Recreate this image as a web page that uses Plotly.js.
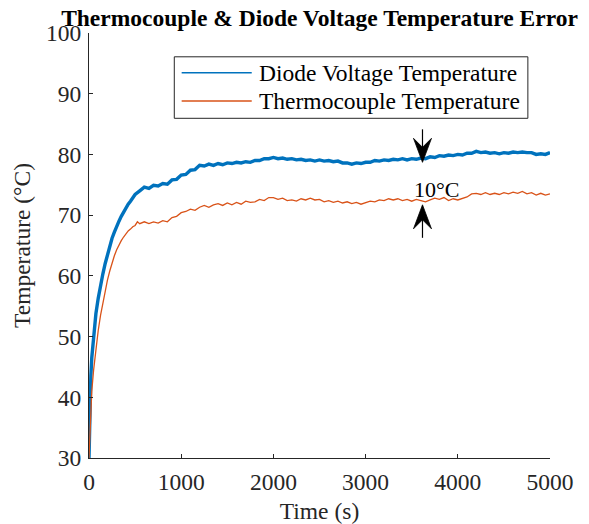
<!DOCTYPE html>
<html>
<head>
<meta charset="utf-8">
<script src="https://cdn.plot.ly/plotly-3.0.1.min.js"></script>
<style>html,body{margin:0;padding:0;background:#fff;}#chart{width:589px;height:524px;}</style>
</head>
<body>
<div id="chart"></div>
<script>
// ---- Data ----
const diodeTime = [0,5,10,20,30,40,50,60,75,100,125,150,175,200,225,250,275,300,325,350,375,400,425,450,475,
  500,550,600,650,700,750,800,850,900,950,1000,1050,1100,1150,1200,1250,1300,1350,1400,1450,1500,1550,1600,1650,1700,1750,
  1800,1850,1900,1950,2000,2050,2100,2150,2200,2250,2300,2350,2400,2450,2500,2550,2600,2650,2700,2750,2800,2850,2900,2950,
  3000,3050,3100,3150,3200,3250,3300,3350,3400,3450,3500,3550,3600,3650,3700,3750,3800,3850,3900,3950,4000,4050,4100,4150,
  4200,4250,4300,4350,4400,4450,4500,4550,4600,4650,4700,4750,4800,4850,4900,4950,5000];
const diodeTemp = [30,35,39,43.5,46.5,48.5,50.3,51.8,53.8,56.3,58.5,60.3,62,63.6,65,66.2,67.2,68.2,69,69.8,70.5,71.1,71.8,72.3,72.9,
  73.4,74.0,74.6,74.4,74.9,74.8,75.2,75.1,75.8,75.9,76.6,76.7,77.4,77.5,78.2,78.1,78.4,78.2,78.5,78.3,78.6,78.5,78.7,78.6,78.8,78.7,
  79.0,79.0,79.3,79.3,79.5,79.3,79.4,79.2,79.3,79.1,79.2,79.0,79.1,78.9,79.1,78.9,79.0,78.8,78.9,78.6,78.6,78.4,78.6,78.5,
  78.7,78.7,79.0,78.9,79.1,79.0,79.2,79.1,79.3,79.1,79.3,79.2,79.4,79.3,79.6,79.5,79.8,79.7,79.9,79.8,80.0,79.9,80.2,80.2,
  80.5,80.3,80.4,80.2,80.3,80.1,80.3,80.2,80.4,80.3,80.4,80.3,80.3,80.0,80.1,80.0,80.3];

const tcTime = [0,10,20,30,50,75,100,125,150,175,200,225,250,275,300,325,350,375,400,425,450,475,500,525,550,600,650,700,750,800,850,
  900,950,1000,1050,1100,1150,1200,1250,1300,1350,1400,1450,1500,1550,1600,1650,1700,1750,1800,1850,1900,1950,2000,2050,2100,
  2150,2200,2250,2300,2350,2400,2450,2500,2550,2600,2650,2700,2750,2800,2850,2900,2950,3000,3050,3100,3150,3200,3250,3300,
  3350,3400,3450,3500,3550,3600,3650,3700,3750,3800,3850,3900,3950,4000,4050,4100,4150,4200,4250,4300,4350,4400,4450,4500,
  4550,4600,4650,4700,4750,4800,4850,4900,4950,5000];
const tcTemp = [30,35,38.5,41,44.5,48,51,53.5,55.5,57.5,59.3,60.8,62.2,63.3,64.3,65.1,65.8,66.4,66.9,67.4,67.7,68.1,68.3,68.9,68.6,68.9,68.6,68.9,68.7,69.1,68.9,
  69.6,69.8,70.4,70.6,71.0,70.8,71.3,71.6,71.3,71.7,71.9,71.6,72.0,71.7,72.1,71.8,72.3,72.1,72.2,72.6,72.4,72.9,72.9,72.6,72.8,
  72.4,72.5,72.3,72.7,72.5,72.8,72.5,72.6,72.2,72.4,72.1,72.3,72.0,72.2,71.9,72.1,71.8,72.1,72.3,72.2,72.5,72.4,72.7,72.5,
  72.7,72.4,72.6,72.3,72.6,72.4,72.2,72.5,72.8,72.6,72.9,72.4,72.7,72.5,72.8,73.0,73.5,73.6,73.4,73.7,73.4,73.6,73.4,73.7,
  73.5,73.8,73.6,73.9,73.5,73.7,73.3,73.6,73.3,73.5];

const seriesNames = ['Diode Voltage Temperature', 'Thermocouple Temperature'];
const xTicks = [0,1000,2000,3000,4000,5000];
const yTicks = [30,40,50,60,70,80,90,100];
const gapLabel = '10°C';
const arrowTime = 3617;
const downArrowTip = 78.7;
const upArrowTip = 71.7;
const gapLabelPos = {t: 3772, v: 74.15};

// ---- Styles ----
const FONT = 'Liberation Serif, "Times New Roman", Times, serif';
const AX = '#262626';
const BLUE = '#0072BD';
const ORANGE = '#D95319';
const FS = 23.5;

const traces = [
  {x: diodeTime, y: diodeTemp, type: 'scatter', mode: 'lines', name: seriesNames[0],
   line: {color: BLUE, width: 3.4}, showlegend: false},
  {x: tcTime, y: tcTemp, type: 'scatter', mode: 'lines', name: seriesNames[1],
   line: {color: ORANGE, width: 1.3}, showlegend: false}
];

// custom legend, drawn like MATLAB's (long line samples)
const legBox = {x0: 0.185, x1: 0.952, y0: 0.7993, y1: 0.944};
const legRows = [0.9066, 0.840];
const legColors = [BLUE, ORANGE];
const shapes = [
  {type: 'rect', xref: 'paper', yref: 'paper', x0: legBox.x0, x1: legBox.x1, y0: legBox.y0, y1: legBox.y1,
   line: {color: AX, width: 1}, fillcolor: 'rgba(255,255,255,1)', layer: 'above'}
];
const annotations = [];
seriesNames.forEach((nm, i) => {
  shapes.push({type: 'line', xref: 'paper', yref: 'paper', x0: 0.201, x1: 0.353, y0: legRows[i], y1: legRows[i],
    line: {color: legColors[i], width: 1.5}, layer: 'above'});
  annotations.push({xref: 'paper', yref: 'paper', x: 0.3644, y: legRows[i], xanchor: 'left', yanchor: 'middle',
    text: nm, showarrow: false, font: {family: FONT, size: FS, color: '#000'}});
});

// gap arrows: anchored at data points, head/shaft drawn in pixel offsets (s = +1 arrow points down, -1 up)
function arrowShapes(tipValue, s) {
  const common = {xref: 'x', yref: 'y', xsizemode: 'pixel', ysizemode: 'pixel', xanchor: arrowTime, yanchor: tipValue, layer: 'above'};
  return [
    Object.assign({type: 'line', x0: 0, x1: 0, y0: s * 12, y1: s * 33, line: {color: '#000', width: 1.2}}, common),
    Object.assign({type: 'path', path: `M0,0 L-9,${s * 24} L0,${s * 15} L9,${s * 24} Z`,
      fillcolor: '#000', line: {color: '#000', width: 0.8}}, common)
  ];
}
shapes.push(...arrowShapes(downArrowTip, 1));
shapes.push(...arrowShapes(upArrowTip, -1));

annotations.push({x: gapLabelPos.t, y: gapLabelPos.v, xref: 'x', yref: 'y', text: gapLabel, showarrow: false,
  font: {family: FONT, size: 22, color: '#000'}});

const axisCommon = {
  showline: true, linecolor: AX, linewidth: 1, ticks: 'inside', ticklen: 4, tickcolor: AX, tickwidth: 1,
  showgrid: false, zeroline: false, mirror: false,
  tickfont: {family: FONT, size: FS, color: AX}
};

const layout = {
  width: 589, height: 524,
  margin: {l: 89, r: 39, t: 33, b: 66, pad: 0},
  paper_bgcolor: '#fff', plot_bgcolor: '#fff',
  title: {text: '<b>Thermocouple &amp; Diode Voltage Temperature Error</b>', font: {family: FONT, size: 23.5, color: '#000'},
    xref: 'paper', x: 0.5, xanchor: 'center', yref: 'container', y: 0.967, yanchor: 'middle'},
  xaxis: Object.assign({}, axisCommon, {range: [0, 5000], tickvals: xTicks, ticktext: xTicks.map(String),
    ticklabelstandoff: 3,
    title: {text: 'Time (s)', font: {family: FONT, size: FS, color: AX}, standoff: 9}}),
  yaxis: Object.assign({}, axisCommon, {range: [30, 100], tickvals: yTicks, ticktext: yTicks.map(String),
    ticklabelstandoff: 2,
    title: {text: 'Temperature (°C)', font: {family: FONT, size: FS, color: AX}, standoff: 8}}),
  shapes: shapes,
  annotations: annotations,
  showlegend: false
};

Plotly.newPlot('chart', traces, layout, {displayModeBar: false, staticPlot: true});
</script>
</body>
</html>
